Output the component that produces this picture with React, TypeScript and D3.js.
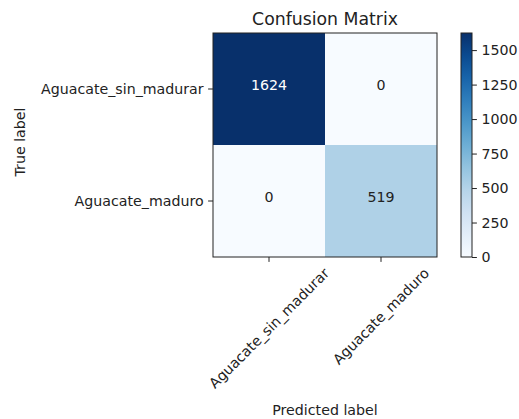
import React, { useEffect, useRef } from 'react';
import * as d3 from 'd3';

const classes = ['Aguacate_sin_madurar', 'Aguacate_maduro'];
const row0 = [1624, 0];
const row1 = [0, 519];
const cbTicks = [0, 250, 500, 750, 1000, 1250, 1500];

const App: React.FC = () => {
  const ref = useRef<SVGSVGElement | null>(null);

  useEffect(() => {
    const svg = d3.select(ref.current);
    svg.selectAll('*').remove();
    const font = 'DejaVu Sans, sans-serif';
    const fs = 14.2;
    const tick = 4.9;
    const matrix = [row0, row1];
    const maxV = d3.max(matrix.flat()) as number;

    const left = 213, top = 33, size = 224;
    const x = d3.scaleBand().domain(classes).range([left, left + size]);
    const y = d3.scaleBand().domain(classes).range([top, top + size]);
    const color = d3.scaleSequential(d3.interpolateBlues).domain([0, maxV]);

    svg.append('rect').attr('width', 519).attr('height', 419).attr('fill', 'white');

    const cells = matrix.flatMap((r, i) => r.map((v, j) => ({ v, i, j })));
    svg.append('g').selectAll('rect')
      .data(cells)
      .enter()
      .append('rect')
      .attr('x', (d) => x(classes[d.j]) as number)
      .attr('y', (d) => y(classes[d.i]) as number)
      .attr('width', x.bandwidth())
      .attr('height', y.bandwidth())
      .attr('fill', (d) => color(d.v));

    svg.append('g').selectAll('text')
      .data(cells)
      .enter()
      .append('text')
      .attr('x', (d) => (x(classes[d.j]) as number) + x.bandwidth() / 2)
      .attr('y', (d) => (y(classes[d.i]) as number) + y.bandwidth() / 2 + 1)
      .attr('text-anchor', 'middle')
      .attr('font-family', font)
      .attr('font-size', fs)
      .attr('fill', (d) => (d.v > maxV / 2 ? 'white' : '#222'))
      .text((d) => d.v);

    svg.append('rect')
      .attr('x', left).attr('y', top).attr('width', size).attr('height', size)
      .attr('fill', 'none').attr('stroke', '#222').attr('stroke-width', 1);

    // y axis
    const yAxis = svg.append('g')
      .attr('transform', `translate(${left},0)`)
      .call(d3.axisLeft(y).tickSize(tick).tickPadding(4.5));
    yAxis.select('.domain').remove();
    yAxis.selectAll('text').attr('font-family', font).attr('font-size', fs).attr('fill', '#222');
    yAxis.selectAll('line').attr('stroke', '#222').attr('stroke-width', 1);

    // x axis
    const xAxis = svg.append('g')
      .attr('transform', `translate(0,${top + size})`)
      .call(d3.axisBottom(x).tickSize(tick).tickFormat(() => ''));
    xAxis.select('.domain').remove();
    xAxis.selectAll('line').attr('stroke', '#222').attr('stroke-width', 1);

    const labelTop = top + size + tick + 3;
    classes.forEach((c) => {
      const t = svg.append('text')
        .attr('font-family', font)
        .attr('font-size', fs)
        .attr('fill', '#222')
        .attr('text-anchor', 'middle')
        .attr('dominant-baseline', 'central')
        .text(c);
      const L = (t.node() as SVGTextElement).getComputedTextLength();
      const h = fs * 1.15;
      const half = ((L + h) * Math.SQRT1_2) / 2;
      const cx = (x(c) as number) + x.bandwidth() / 2;
      t.attr('transform', `translate(${cx},${labelTop + half}) rotate(-45)`);
    });

    svg.append('text')
      .attr('x', left + size / 2).attr('y', 25)
      .attr('text-anchor', 'middle')
      .attr('font-family', font).attr('font-size', 17.3).attr('fill', '#222')
      .text('Confusion Matrix');

    svg.append('text')
      .attr('x', left + size / 2).attr('y', 415)
      .attr('text-anchor', 'middle')
      .attr('font-family', font).attr('font-size', fs).attr('fill', '#222')
      .text('Predicted label');

    svg.append('text')
      .attr('transform', `translate(25,${top + size / 2 - 3}) rotate(-90)`)
      .attr('text-anchor', 'middle')
      .attr('font-family', font).attr('font-size', fs).attr('fill', '#222')
      .text('True label');

    // colorbar
    const cbX = 461, cbW = 11;
    const cbY = d3.scaleLinear().domain([0, maxV]).range([top + size, top]);
    const defs = svg.append('defs');
    const grad = defs.append('linearGradient')
      .attr('id', 'cbgrad').attr('x1', 0).attr('y1', 1).attr('x2', 0).attr('y2', 0);
    d3.range(0, 1.0001, 0.1).forEach((t) => {
      grad.append('stop').attr('offset', t).attr('stop-color', d3.interpolateBlues(t));
    });
    svg.append('rect')
      .attr('x', cbX).attr('y', top).attr('width', cbW).attr('height', size)
      .attr('fill', 'url(#cbgrad)')
      .attr('stroke', '#222').attr('stroke-width', 1);

    const cbAxis = svg.append('g')
      .attr('transform', `translate(${cbX + cbW},0)`)
      .call(d3.axisRight(cbY).tickValues(cbTicks).tickFormat(d3.format('d')).tickSize(tick).tickPadding(4.5));
    cbAxis.select('.domain').remove();
    cbAxis.selectAll('text').attr('font-family', font).attr('font-size', fs).attr('fill', '#222');
    cbAxis.selectAll('line').attr('stroke', '#222').attr('stroke-width', 1);
  }, []);

  return <svg ref={ref} width={519} height={419} style={{ position: 'absolute', left: 0, top: 0 }}></svg>;
};

export default App;
